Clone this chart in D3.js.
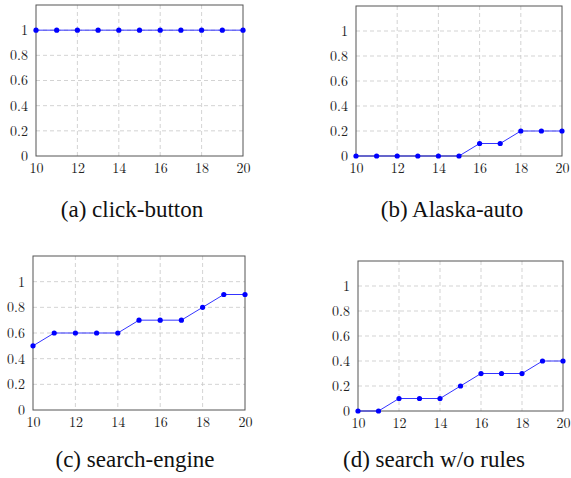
<html>

<head>
  <title>d3.js four small line charts</title>
  <script type="text/javascript" src="https://cdn.jsdelivr.net/npm/d3@7"></script>
  <style>
    body { margin: 0; background: #fff; }
  </style>
</head>

<body>
  <script type="text/javascript">
    // Data
    const xValues = [10, 11, 12, 13, 14, 15, 16, 17, 18, 19, 20];
    const clickButton = [1, 1, 1, 1, 1, 1, 1, 1, 1, 1, 1];
    const alaskaAuto = [0, 0, 0, 0, 0, 0, 0.1, 0.1, 0.2, 0.2, 0.2];
    const searchEngine = [0.5, 0.6, 0.6, 0.6, 0.6, 0.7, 0.7, 0.7, 0.8, 0.9, 0.9];
    const searchNoRules = [0, 0, 0.1, 0.1, 0.1, 0.2, 0.3, 0.3, 0.3, 0.4, 0.4];
    const captions = ["(a) click-button", "(b) Alaska-auto", "(c) search-engine", "(d) search w/o rules"];
    const xTicks = [10, 12, 14, 16, 18, 20];
    const yTicks = [0, 0.2, 0.4, 0.6, 0.8, 1];

    // Placering af de fire plots
    const layout = [
      { left: 36, right: 243, top: 5, bottom: 156, capX: 132, capY: 217 },
      { left: 356, right: 562, top: 6, bottom: 156, capX: 452, capY: 217 },
      { left: 33, right: 245, top: 256, bottom: 410, capX: 135, capY: 467 },
      { left: 358, right: 563, top: 261, bottom: 411, capX: 434, capY: 467 }
    ];
    const series = [clickButton, alaskaAuto, searchEngine, searchNoRules];

    const w = 571;
    const h = 478;

    const svg = d3.select("body")
      .append("svg")
      .attr("width", w)
      .attr("height", h);

    svg.append("rect")
      .attr("width", w)
      .attr("height", h)
      .attr("fill", "#fff");

    series.forEach(function (values, k) {
      const p = layout[k];
      const xScale = d3.scaleLinear().domain([10, 20]).range([p.left, p.right]);
      const yScale = d3.scaleLinear().domain([0, 1.2]).range([p.bottom, p.top]);
      const g = svg.append("g");

      // Grid
      g.selectAll("line.vgrid")
        .data(xTicks.slice(1, -1))
        .enter()
        .append("line")
        .attr("x1", d => xScale(d))
        .attr("x2", d => xScale(d))
        .attr("y1", p.top)
        .attr("y2", p.bottom)
        .attr("stroke", "#c8c8c8")
        .attr("stroke-width", 0.8)
        .attr("stroke-dasharray", "4,3");

      g.selectAll("line.hgrid")
        .data(yTicks.slice(1))
        .enter()
        .append("line")
        .attr("x1", p.left)
        .attr("x2", p.right)
        .attr("y1", d => yScale(d))
        .attr("y2", d => yScale(d))
        .attr("stroke", "#c8c8c8")
        .attr("stroke-width", 0.8)
        .attr("stroke-dasharray", "4,3");

      // Akser
      const xAxis = g.append("g")
        .attr("transform", "translate(0," + p.bottom + ")")
        .call(d3.axisBottom(xScale).tickValues(xTicks).tickSize(0).tickPadding(7));
      const yAxis = g.append("g")
        .attr("transform", "translate(" + p.left + ",0)")
        .call(d3.axisLeft(yScale).tickValues(yTicks).tickSize(0).tickPadding(8)
          .tickFormat(d => d3.format("")(d)));

      [xAxis, yAxis].forEach(function (ax) {
        ax.select(".domain").remove();
        ax.selectAll("text")
          .style("font-family", "Latin Modern Roman")
          .style("font-size", "14px")
          .attr("fill", "#222");
      });

      // Ramme
      g.append("rect")
        .attr("x", p.left)
        .attr("y", p.top)
        .attr("width", p.right - p.left)
        .attr("height", p.bottom - p.top)
        .attr("fill", "none")
        .attr("stroke", "#555")
        .attr("stroke-width", 1);

      // Linje og punkter
      const line = d3.line()
        .x((d, i) => xScale(xValues[i]))
        .y(d => yScale(d));

      g.append("path")
        .datum(values)
        .attr("d", line)
        .attr("fill", "none")
        .attr("stroke", "#0000ff")
        .attr("stroke-width", 0.8);

      g.selectAll("circle")
        .data(values)
        .enter()
        .append("circle")
        .attr("cx", (d, i) => xScale(xValues[i]))
        .attr("cy", d => yScale(d))
        .attr("r", 2.6)
        .attr("fill", "#0000ff");

      // Undertekst
      svg.append("text")
        .attr("x", p.capX)
        .attr("y", p.capY)
        .attr("text-anchor", "middle")
        .style("font-family", "Liberation Serif")
        .style("font-size", "23px")
        .attr("fill", "#111")
        .text(captions[k]);
    });
  </script>
</body>

</html>
